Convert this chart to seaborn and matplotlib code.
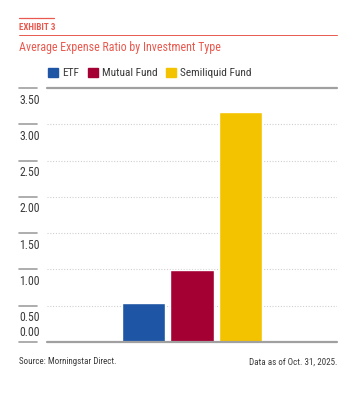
import numpy as np
import pandas as pd
import matplotlib
matplotlib.use("Agg")
import matplotlib.pyplot as plt
from matplotlib.lines import Line2D
from matplotlib.patches import Rectangle
import seaborn as sns

# ========== DATA ==========
fund_types = ["ETF", "Mutual Fund", "Semiliquid Fund"]
expense_ratios = [0.54, 0.99, 3.17]
tick_values = [0.0, 0.5, 1.0, 1.5, 2.0, 2.5, 3.0, 3.5]
tick_labels = ["0.00", "0.50", "1.00", "1.50", "2.00", "2.50", "3.00", "3.50"]
bar_colors = ["#1F55A5", "#A50034", "#F4C300"]

ACCENT = "#E9594F"
GREY = "#A0A0A0"
TEXT = "#3A3A3A"

sns.set_style("white")
plt.rcParams["font.family"] = ["Roboto Condensed", "Roboto", "DejaVu Sans"]

W, H = 363, 398
fig = plt.figure(figsize=(W / 100, H / 100), dpi=100)


def fx(px):
    return px / W


def fy(py):
    return 1 - py / H


ax = fig.add_axes([fx(47), fy(342), fx(337) - fx(47), fy(88) - fy(342)])

df = pd.DataFrame({"group": ["all"] * 3, "type": fund_types, "value": expense_ratios})
sns.barplot(data=df, x="group", y="value", hue="type", palette=bar_colors,
            width=0.5, gap=0.1, ax=ax, legend=False, saturation=1)

ax.set_xlim(-0.5, 0.5)
ax.set_ylim(0, 3.5)
ax.set_xticks([])
ax.set_yticks([])
ax.set_xlabel("")
ax.set_ylabel("")
for s in ax.spines.values():
    s.set_visible(False)

# grid
for v in tick_values[1:-1]:
    ax.axhline(v, color="#D0D0D0", lw=0.8, ls=(0, (1, 1.5)), zorder=0)
ax.axhline(3.5, color=GREY, lw=1.6, zorder=3, clip_on=False)
ax.axhline(0.0, color=GREY, lw=1.6, zorder=3, clip_on=False)


# left tick marks and labels
def data_to_py(v):
    return 342 - v * (342 - 88) / 3.5


for v, lab in zip(tick_values, tick_labels):
    py = data_to_py(v)
    fig.add_artist(Line2D([fx(19), fx(37)], [fy(py), fy(py)], color=GREY, lw=1.2))
    ty = py - 10 if v == 0 else py + 12
    fig.text(fx(19), fy(ty), lab, fontsize=8.5, color=TEXT, ha="left", va="center")

# header
fig.add_artist(Line2D([fx(19), fx(54)], [fy(18), fy(18)], color=ACCENT, lw=0.9))
fig.text(fx(19), fy(27), "EXHIBIT 3", fontsize=6.5, fontweight="bold", color=ACCENT,
         ha="left", va="center")
fig.add_artist(Line2D([fx(19), fx(337)], [fy(34.5), fy(34.5)], color=ACCENT, lw=0.7))
fig.text(fx(19), fy(48), "Average Expense Ratio by Investment Type", fontsize=8.6,
         color=ACCENT, ha="left", va="center")

# legend
legend_x = [48, 88, 166]
for x0, lab, col in zip(legend_x, fund_types, bar_colors):
    fig.add_artist(Rectangle((fx(x0), fy(77)), fx(10), fy(68) - fy(77),
                             color=col, transform=fig.transFigure))
    fig.text(fx(x0 + 14), fy(73), lab, fontsize=8.2, color=TEXT, ha="left", va="center")

# footer
fig.text(fx(19), fy(362), "Source: Morningstar Direct.", fontsize=6.5, color=TEXT,
         ha="left", va="center")
fig.text(fx(337), fy(362), "Data as of Oct. 31, 2025.", fontsize=6.5, color=TEXT,
         ha="right", va="center")

fig.savefig("out.png", dpi=100, facecolor="white")
